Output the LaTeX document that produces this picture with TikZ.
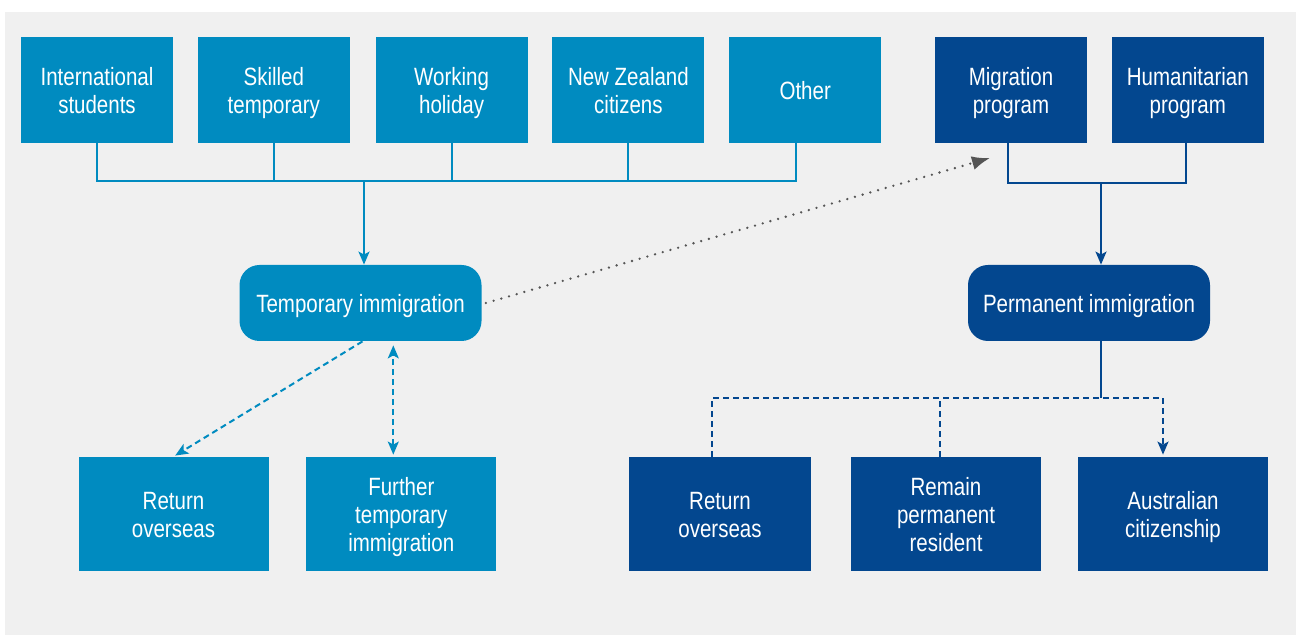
\documentclass[tikz,border=0pt]{standalone}
\usepackage{fontspec}
\setmainfont{Liberation Sans}[FakeStretch=0.82]
\usetikzlibrary{arrows.meta, positioning, calc}

\definecolor{tempblue}{HTML}{008BC0}
\definecolor{permblue}{HTML}{03478F}
\definecolor{panelgray}{HTML}{F0F0F0}
\definecolor{dotgray}{HTML}{555555}
\newcommand{\boxfont}{\fontsize{12.5}{14}\selectfont}
\newcommand{\boxrows}{2}

\tikzset{
  textrows/.code={\def\boxrows{#1}},
  tempbox/.style={rectangle, fill=tempblue, text=white, align=center, inner sep=0pt,
    minimum width=76pt, minimum height=53pt, font=\boxfont, text depth=3.5pt,
    execute at begin node={\rule{0pt}{\dimexpr 13.5pt+14pt*(\boxrows-1)\relax}}},
  permbox/.style={tempbox, fill=permblue},
  endbox/.style={minimum width=95pt, minimum height=57pt},
  hubbox/.style={rounded corners=10pt, minimum width=121pt, minimum height=38pt, textrows=1},
  templine/.style={draw=tempblue, line width=1pt},
  permline/.style={draw=permblue, line width=1pt},
  dashline/.style={dash pattern=on 3pt off 2pt},
  arrowtip/.style={-{Stealth[length=6.5pt, width=5.5pt, inset=1.5pt]}},
  bothtips/.style={{Stealth[length=6.5pt, width=5.5pt, inset=1.5pt]}-{Stealth[length=6.5pt, width=5.5pt, inset=1.5pt]}},
}

\begin{document}
\begin{tikzpicture}[x=0.5pt, y=-0.5pt]
    \useasboundingbox (0,0) rectangle (1296,635);
    \fill[panelgray] (5,12) rectangle (1296,635);

    % visa streams
    \node[tempbox] (intl) at (97,90) {International\\students};
    \node[tempbox, right=12pt of intl] (skilled) {Skilled\\temporary};
    \node[tempbox, right=12.5pt of skilled] (working) {Working\\holiday};
    \node[tempbox, right=12pt of working] (nz) {New Zealand\\citizens};
    \node[tempbox, right=12pt of nz, textrows=1] (other) {Other};
    \node[permbox] (migration) at (1011,90) {Migration\\program};
    \node[permbox, right=12pt of migration] (humanitarian) {Humanitarian\\program};

    % hubs
    \node[tempbox, hubbox] (temp) at (360.5,303) {Temporary immigration};
    \node[permbox, hubbox] (perm) at (1089,303) {Permanent immigration};

    % outcomes
    \node[tempbox, endbox] (tempret) at (173.5,514) {Return\\overseas};
    \node[tempbox, endbox, right=18.5pt of tempret, textrows=3] (further) {Further\\temporary\\immigration};
    \node[permbox, endbox, minimum width=91pt] (permret) at (720,514) {Return\\overseas};
    \node[permbox, endbox, textrows=3] (remain) at (946,514) {Remain\\permanent\\resident};
    \node[permbox, endbox] (citizen) at (1173,514) {Australian\\citizenship};

    \coordinate (tempjoin) at (364,181);
    \coordinate (permjoin) at (1101,183);
    \coordinate (permsplit) at (1101,398);
    \coordinate (dotend) at (990,158);
    \coordinate (otherfoot) at ([xshift=-4.5pt]other.south);

    % temporary side
    \draw[templine] (intl.south) |- (otherfoot |- tempjoin) -- (otherfoot);
    \foreach \n in {skilled, working, nz}
        \draw[templine] (\n.south) -- (\n.south |- tempjoin);
    \draw[templine, arrowtip] (tempjoin) -- (tempjoin |- temp.north);
    \draw[templine, dashline, arrowtip, shorten >=1pt] ([xshift=1pt]temp.south) -- (tempret.north);
    \draw[templine, dashline, bothtips, shorten <=1pt, shorten >=2pt]
        ([xshift=-4pt]further.north) -- ([xshift=-4pt]further.north |- temp.south);

    % temporary to permanent
    \draw[dotgray, line width=1.3pt, line cap=round, dash pattern=on 0pt off 4pt,
        -{Latex[length=9pt, width=7pt]}] ([xshift=2pt]temp.east) -- (dotend);

    % permanent side
    \draw[permline] ([xshift=-1.5pt]migration.south) |- ([xshift=-1pt]humanitarian.south |- permjoin)
        -- ([xshift=-1pt]humanitarian.south);
    \draw[permline, arrowtip] (permjoin) -- (permjoin |- perm.north);
    \draw[permline] (permsplit |- perm.south) -- (permsplit);
    \draw[permline, dashline, arrowtip, shorten >=1pt] ([xshift=-4pt]permret.north)
        |- ([xshift=-5pt]citizen.north |- permsplit) -- ([xshift=-5pt]citizen.north);
    \draw[permline, dashline] ([xshift=-3pt]remain.north) -- ([xshift=-3pt]remain.north |- permsplit);
\end{tikzpicture}
\end{document}
